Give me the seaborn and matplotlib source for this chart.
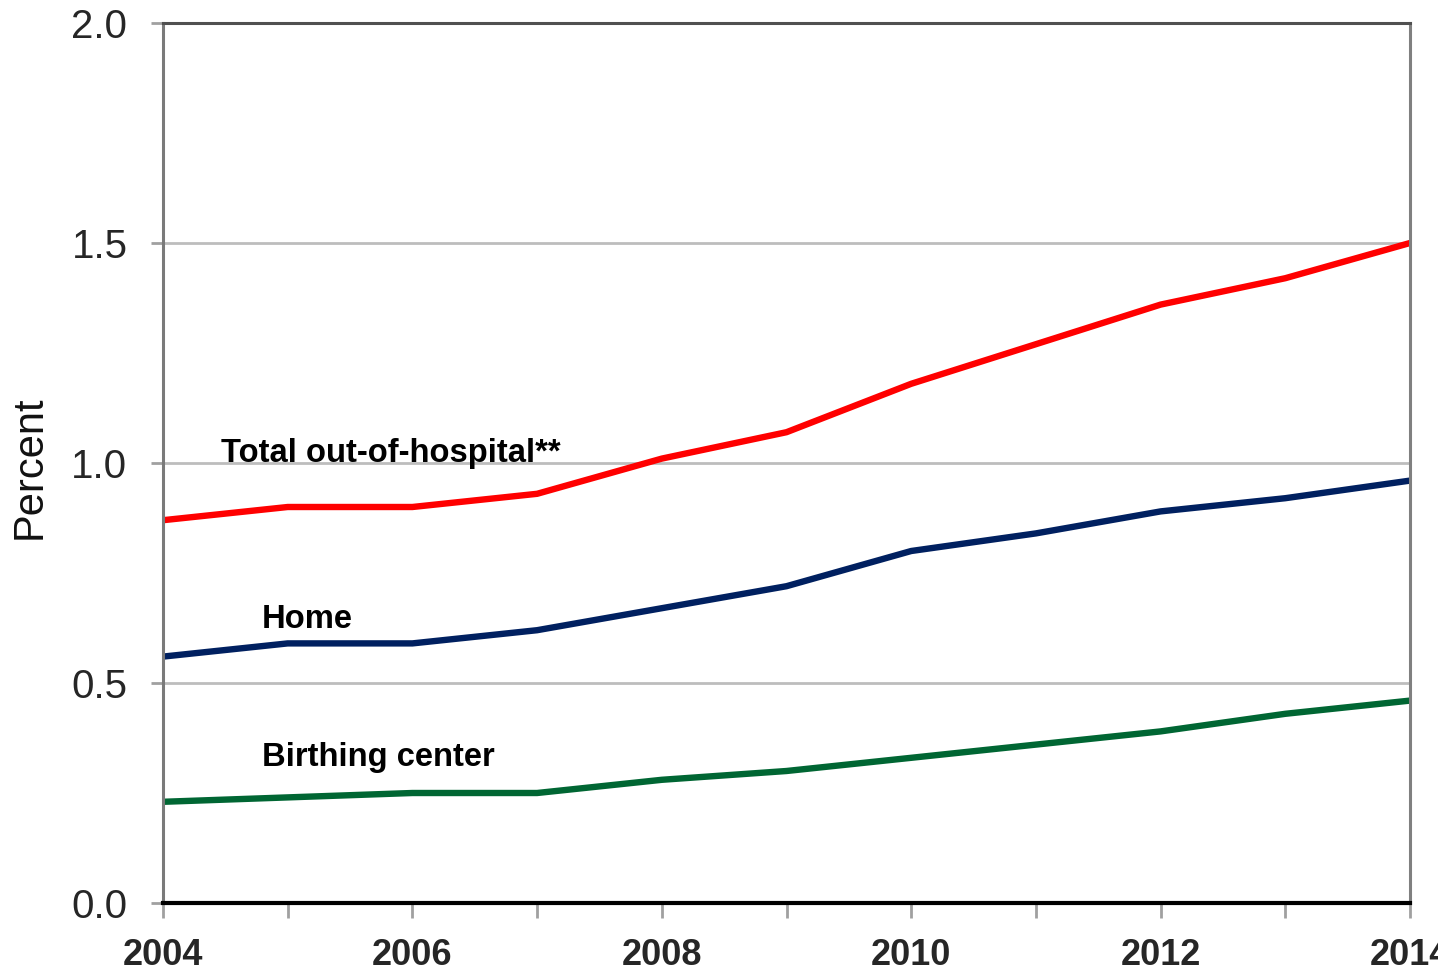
import numpy as np
import pandas as pd
import matplotlib
matplotlib.use("Agg")
import matplotlib.pyplot as plt
import seaborn as sns

# === Datos ===
anios = [2004, 2005, 2006, 2007, 2008, 2009, 2010, 2011, 2012, 2013, 2014]
total_fuera_hospital = [0.87, 0.90, 0.90, 0.93, 1.01, 1.07, 1.18, 1.27, 1.36, 1.42, 1.50]
domicilio = [0.56, 0.59, 0.59, 0.62, 0.67, 0.72, 0.80, 0.84, 0.89, 0.92, 0.96]
centro_parto = [0.23, 0.24, 0.25, 0.25, 0.28, 0.30, 0.33, 0.36, 0.39, 0.43, 0.46]

series = ["Total out-of-hospital**", "Home", "Birthing center"]
colores = {"Total out-of-hospital**": "#FF0000", "Home": "#002060", "Birthing center": "#006633"}
y_ticks = [0.0, 0.5, 1.0, 1.5, 2.0]
x_ticks = [2004, 2006, 2008, 2010, 2012, 2014]

df = pd.DataFrame({
    "anio": anios * 3,
    "valor": total_fuera_hospital + domicilio + centro_parto,
    "serie": [s for s in series for _ in anios],
})

# === Estilo ===
sns.set_style("white")
plt.rcParams["font.family"] = ["Liberation Sans", "DejaVu Sans"]

fig = plt.figure(figsize=(14.38, 9.71), dpi=100)
ax = fig.add_axes([163 / 1438, 1 - 903 / 971, 1247 / 1438, 880 / 971])

# lineas de cuadricula
for v in y_ticks[1:-1]:
    ax.axhline(v, color="#BDBDBD", lw=2.0, zorder=1)

sns.lineplot(data=df, x="anio", y="valor", hue="serie", palette=colores,
             hue_order=series, linewidth=4.6, legend=False, ax=ax, zorder=3)

ax.set_xlim(2004, 2014)
ax.set_ylim(0, 2.0)
ax.set_xticks(x_ticks)
ax.set_xticks(anios, minor=True)
ax.set_yticks(y_ticks)
ax.set_yticklabels([f"{v:.1f}" for v in y_ticks])
ax.set_xlabel("")
ax.set_ylabel("Percent", fontsize=30, color="#111111")
ax.yaxis.set_label_coords(-0.091, 0.495)

ax.tick_params(axis="x", which="both", direction="out", length=11, width=2,
               color="#A0A0A0", bottom=True, pad=14)
ax.tick_params(axis="x", which="major", labelsize=26)
ax.tick_params(axis="y", direction="out", length=8.6, width=2,
               color="#A0A0A0", left=True, labelsize=29, pad=17)
for lbl in ax.get_xticklabels():
    lbl.set_fontweight("bold")

ax.spines["left"].set_color("#7A7A7A")
ax.spines["left"].set_linewidth(2.2)
ax.spines["right"].set_color("#808080")
ax.spines["right"].set_linewidth(2.2)
ax.spines["top"].set_color("#505050")
ax.spines["top"].set_linewidth(2.2)
ax.spines["bottom"].set_color("black")
ax.spines["bottom"].set_linewidth(3)
for s in ax.spines.values():
    s.set_zorder(4)

# === Etiquetas de las series ===
ax.text(2004.465, 1.003, "Total out-of-hospital**", fontsize=23.6, fontweight="bold",
        ha="left", va="baseline", color="black")
ax.text(2004.79, 0.625, "Home", fontsize=23.6, fontweight="bold",
        ha="left", va="baseline", color="black")
ax.text(2004.79, 0.312, "Birthing center", fontsize=23.6, fontweight="bold",
        ha="left", va="baseline", color="black")

fig.savefig("out.png", dpi=100)
